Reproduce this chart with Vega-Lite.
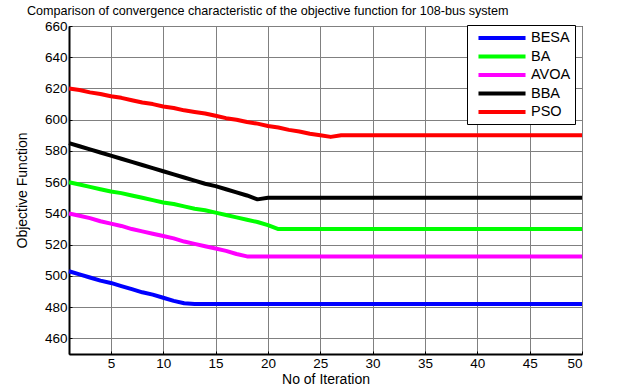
{
  "$schema": "https://vega.github.io/schema/vega-lite/v6.json",
  "width": 513,
  "height": 328,
  "autosize": {"type": "none"},
  "padding": {"left": 69, "top": 26, "right": 48, "bottom": 38},
  "background": "white",
  "title": {
    "text": "Comparison of convergence characteristic of the objective function for 108-bus system",
    "anchor": "start",
    "frame": "group",
    "dx": -42,
    "dy": 18,
    "offset": 9,
    "baseline": "alphabetic",
    "font": "Liberation Sans",
    "fontSize": 12.6,
    "fontWeight": "normal",
    "color": "black"
  },
  "data": {
    "values": [
      {"iter": 1, "algo": "BESA", "f": 503}, {"iter": 2, "algo": "BESA", "f": 501}, {"iter": 3, "algo": "BESA", "f": 499}, {"iter": 4, "algo": "BESA", "f": 497}, {"iter": 5, "algo": "BESA", "f": 495.5},
      {"iter": 6, "algo": "BESA", "f": 493.5}, {"iter": 7, "algo": "BESA", "f": 491.5}, {"iter": 8, "algo": "BESA", "f": 489.5}, {"iter": 9, "algo": "BESA", "f": 488}, {"iter": 10, "algo": "BESA", "f": 486},
      {"iter": 11, "algo": "BESA", "f": 484}, {"iter": 12, "algo": "BESA", "f": 482.5}, {"iter": 13, "algo": "BESA", "f": 482}, {"iter": 14, "algo": "BESA", "f": 482}, {"iter": 15, "algo": "BESA", "f": 482},
      {"iter": 16, "algo": "BESA", "f": 482}, {"iter": 17, "algo": "BESA", "f": 482}, {"iter": 18, "algo": "BESA", "f": 482}, {"iter": 19, "algo": "BESA", "f": 482}, {"iter": 20, "algo": "BESA", "f": 482},
      {"iter": 21, "algo": "BESA", "f": 482}, {"iter": 22, "algo": "BESA", "f": 482}, {"iter": 23, "algo": "BESA", "f": 482}, {"iter": 24, "algo": "BESA", "f": 482}, {"iter": 25, "algo": "BESA", "f": 482},
      {"iter": 26, "algo": "BESA", "f": 482}, {"iter": 27, "algo": "BESA", "f": 482}, {"iter": 28, "algo": "BESA", "f": 482}, {"iter": 29, "algo": "BESA", "f": 482}, {"iter": 30, "algo": "BESA", "f": 482},
      {"iter": 31, "algo": "BESA", "f": 482}, {"iter": 32, "algo": "BESA", "f": 482}, {"iter": 33, "algo": "BESA", "f": 482}, {"iter": 34, "algo": "BESA", "f": 482}, {"iter": 35, "algo": "BESA", "f": 482},
      {"iter": 36, "algo": "BESA", "f": 482}, {"iter": 37, "algo": "BESA", "f": 482}, {"iter": 38, "algo": "BESA", "f": 482}, {"iter": 39, "algo": "BESA", "f": 482}, {"iter": 40, "algo": "BESA", "f": 482},
      {"iter": 41, "algo": "BESA", "f": 482}, {"iter": 42, "algo": "BESA", "f": 482}, {"iter": 43, "algo": "BESA", "f": 482}, {"iter": 44, "algo": "BESA", "f": 482}, {"iter": 45, "algo": "BESA", "f": 482},
      {"iter": 46, "algo": "BESA", "f": 482}, {"iter": 47, "algo": "BESA", "f": 482}, {"iter": 48, "algo": "BESA", "f": 482}, {"iter": 49, "algo": "BESA", "f": 482}, {"iter": 50, "algo": "BESA", "f": 482},

      {"iter": 1, "algo": "BA", "f": 560}, {"iter": 2, "algo": "BA", "f": 558.5}, {"iter": 3, "algo": "BA", "f": 557}, {"iter": 4, "algo": "BA", "f": 555.5}, {"iter": 5, "algo": "BA", "f": 554},
      {"iter": 6, "algo": "BA", "f": 553}, {"iter": 7, "algo": "BA", "f": 551.5}, {"iter": 8, "algo": "BA", "f": 550}, {"iter": 9, "algo": "BA", "f": 548.5}, {"iter": 10, "algo": "BA", "f": 547},
      {"iter": 11, "algo": "BA", "f": 546}, {"iter": 12, "algo": "BA", "f": 544.5}, {"iter": 13, "algo": "BA", "f": 543}, {"iter": 14, "algo": "BA", "f": 542}, {"iter": 15, "algo": "BA", "f": 540.5},
      {"iter": 16, "algo": "BA", "f": 539}, {"iter": 17, "algo": "BA", "f": 537.5}, {"iter": 18, "algo": "BA", "f": 536}, {"iter": 19, "algo": "BA", "f": 534.5}, {"iter": 20, "algo": "BA", "f": 532.5},
      {"iter": 21, "algo": "BA", "f": 530}, {"iter": 22, "algo": "BA", "f": 530}, {"iter": 23, "algo": "BA", "f": 530}, {"iter": 24, "algo": "BA", "f": 530}, {"iter": 25, "algo": "BA", "f": 530},
      {"iter": 26, "algo": "BA", "f": 530}, {"iter": 27, "algo": "BA", "f": 530}, {"iter": 28, "algo": "BA", "f": 530}, {"iter": 29, "algo": "BA", "f": 530}, {"iter": 30, "algo": "BA", "f": 530},
      {"iter": 31, "algo": "BA", "f": 530}, {"iter": 32, "algo": "BA", "f": 530}, {"iter": 33, "algo": "BA", "f": 530}, {"iter": 34, "algo": "BA", "f": 530}, {"iter": 35, "algo": "BA", "f": 530},
      {"iter": 36, "algo": "BA", "f": 530}, {"iter": 37, "algo": "BA", "f": 530}, {"iter": 38, "algo": "BA", "f": 530}, {"iter": 39, "algo": "BA", "f": 530}, {"iter": 40, "algo": "BA", "f": 530},
      {"iter": 41, "algo": "BA", "f": 530}, {"iter": 42, "algo": "BA", "f": 530}, {"iter": 43, "algo": "BA", "f": 530}, {"iter": 44, "algo": "BA", "f": 530}, {"iter": 45, "algo": "BA", "f": 530},
      {"iter": 46, "algo": "BA", "f": 530}, {"iter": 47, "algo": "BA", "f": 530}, {"iter": 48, "algo": "BA", "f": 530}, {"iter": 49, "algo": "BA", "f": 530}, {"iter": 50, "algo": "BA", "f": 530},

      {"iter": 1, "algo": "AVOA", "f": 540}, {"iter": 2, "algo": "AVOA", "f": 538.5}, {"iter": 3, "algo": "AVOA", "f": 537}, {"iter": 4, "algo": "AVOA", "f": 535}, {"iter": 5, "algo": "AVOA", "f": 533.5},
      {"iter": 6, "algo": "AVOA", "f": 532}, {"iter": 7, "algo": "AVOA", "f": 530}, {"iter": 8, "algo": "AVOA", "f": 528.5}, {"iter": 9, "algo": "AVOA", "f": 527}, {"iter": 10, "algo": "AVOA", "f": 525.5},
      {"iter": 11, "algo": "AVOA", "f": 524}, {"iter": 12, "algo": "AVOA", "f": 522}, {"iter": 13, "algo": "AVOA", "f": 520.5}, {"iter": 14, "algo": "AVOA", "f": 519}, {"iter": 15, "algo": "AVOA", "f": 517.5},
      {"iter": 16, "algo": "AVOA", "f": 516}, {"iter": 17, "algo": "AVOA", "f": 514}, {"iter": 18, "algo": "AVOA", "f": 512.5}, {"iter": 19, "algo": "AVOA", "f": 512.5}, {"iter": 20, "algo": "AVOA", "f": 512.5},
      {"iter": 21, "algo": "AVOA", "f": 512.5}, {"iter": 22, "algo": "AVOA", "f": 512.5}, {"iter": 23, "algo": "AVOA", "f": 512.5}, {"iter": 24, "algo": "AVOA", "f": 512.5}, {"iter": 25, "algo": "AVOA", "f": 512.5},
      {"iter": 26, "algo": "AVOA", "f": 512.5}, {"iter": 27, "algo": "AVOA", "f": 512.5}, {"iter": 28, "algo": "AVOA", "f": 512.5}, {"iter": 29, "algo": "AVOA", "f": 512.5}, {"iter": 30, "algo": "AVOA", "f": 512.5},
      {"iter": 31, "algo": "AVOA", "f": 512.5}, {"iter": 32, "algo": "AVOA", "f": 512.5}, {"iter": 33, "algo": "AVOA", "f": 512.5}, {"iter": 34, "algo": "AVOA", "f": 512.5}, {"iter": 35, "algo": "AVOA", "f": 512.5},
      {"iter": 36, "algo": "AVOA", "f": 512.5}, {"iter": 37, "algo": "AVOA", "f": 512.5}, {"iter": 38, "algo": "AVOA", "f": 512.5}, {"iter": 39, "algo": "AVOA", "f": 512.5}, {"iter": 40, "algo": "AVOA", "f": 512.5},
      {"iter": 41, "algo": "AVOA", "f": 512.5}, {"iter": 42, "algo": "AVOA", "f": 512.5}, {"iter": 43, "algo": "AVOA", "f": 512.5}, {"iter": 44, "algo": "AVOA", "f": 512.5}, {"iter": 45, "algo": "AVOA", "f": 512.5},
      {"iter": 46, "algo": "AVOA", "f": 512.5}, {"iter": 47, "algo": "AVOA", "f": 512.5}, {"iter": 48, "algo": "AVOA", "f": 512.5}, {"iter": 49, "algo": "AVOA", "f": 512.5}, {"iter": 50, "algo": "AVOA", "f": 512.5},

      {"iter": 1, "algo": "BBA", "f": 585}, {"iter": 2, "algo": "BBA", "f": 583}, {"iter": 3, "algo": "BBA", "f": 581}, {"iter": 4, "algo": "BBA", "f": 579}, {"iter": 5, "algo": "BBA", "f": 577},
      {"iter": 6, "algo": "BBA", "f": 575}, {"iter": 7, "algo": "BBA", "f": 573}, {"iter": 8, "algo": "BBA", "f": 571}, {"iter": 9, "algo": "BBA", "f": 569}, {"iter": 10, "algo": "BBA", "f": 567},
      {"iter": 11, "algo": "BBA", "f": 565}, {"iter": 12, "algo": "BBA", "f": 563}, {"iter": 13, "algo": "BBA", "f": 561}, {"iter": 14, "algo": "BBA", "f": 559}, {"iter": 15, "algo": "BBA", "f": 557.5},
      {"iter": 16, "algo": "BBA", "f": 555.5}, {"iter": 17, "algo": "BBA", "f": 553.5}, {"iter": 18, "algo": "BBA", "f": 551.5}, {"iter": 19, "algo": "BBA", "f": 549}, {"iter": 20, "algo": "BBA", "f": 550},
      {"iter": 21, "algo": "BBA", "f": 550}, {"iter": 22, "algo": "BBA", "f": 550}, {"iter": 23, "algo": "BBA", "f": 550}, {"iter": 24, "algo": "BBA", "f": 550}, {"iter": 25, "algo": "BBA", "f": 550},
      {"iter": 26, "algo": "BBA", "f": 550}, {"iter": 27, "algo": "BBA", "f": 550}, {"iter": 28, "algo": "BBA", "f": 550}, {"iter": 29, "algo": "BBA", "f": 550}, {"iter": 30, "algo": "BBA", "f": 550},
      {"iter": 31, "algo": "BBA", "f": 550}, {"iter": 32, "algo": "BBA", "f": 550}, {"iter": 33, "algo": "BBA", "f": 550}, {"iter": 34, "algo": "BBA", "f": 550}, {"iter": 35, "algo": "BBA", "f": 550},
      {"iter": 36, "algo": "BBA", "f": 550}, {"iter": 37, "algo": "BBA", "f": 550}, {"iter": 38, "algo": "BBA", "f": 550}, {"iter": 39, "algo": "BBA", "f": 550}, {"iter": 40, "algo": "BBA", "f": 550},
      {"iter": 41, "algo": "BBA", "f": 550}, {"iter": 42, "algo": "BBA", "f": 550}, {"iter": 43, "algo": "BBA", "f": 550}, {"iter": 44, "algo": "BBA", "f": 550}, {"iter": 45, "algo": "BBA", "f": 550},
      {"iter": 46, "algo": "BBA", "f": 550}, {"iter": 47, "algo": "BBA", "f": 550}, {"iter": 48, "algo": "BBA", "f": 550}, {"iter": 49, "algo": "BBA", "f": 550}, {"iter": 50, "algo": "BBA", "f": 550},

      {"iter": 1, "algo": "PSO", "f": 620}, {"iter": 2, "algo": "PSO", "f": 619}, {"iter": 3, "algo": "PSO", "f": 617.5}, {"iter": 4, "algo": "PSO", "f": 616.5}, {"iter": 5, "algo": "PSO", "f": 615},
      {"iter": 6, "algo": "PSO", "f": 614}, {"iter": 7, "algo": "PSO", "f": 612.5}, {"iter": 8, "algo": "PSO", "f": 611}, {"iter": 9, "algo": "PSO", "f": 610}, {"iter": 10, "algo": "PSO", "f": 608.5},
      {"iter": 11, "algo": "PSO", "f": 607.5}, {"iter": 12, "algo": "PSO", "f": 606}, {"iter": 13, "algo": "PSO", "f": 605}, {"iter": 14, "algo": "PSO", "f": 604}, {"iter": 15, "algo": "PSO", "f": 602.5},
      {"iter": 16, "algo": "PSO", "f": 601}, {"iter": 17, "algo": "PSO", "f": 600}, {"iter": 18, "algo": "PSO", "f": 598.5}, {"iter": 19, "algo": "PSO", "f": 597.5}, {"iter": 20, "algo": "PSO", "f": 596},
      {"iter": 21, "algo": "PSO", "f": 595}, {"iter": 22, "algo": "PSO", "f": 593.5}, {"iter": 23, "algo": "PSO", "f": 592.5}, {"iter": 24, "algo": "PSO", "f": 591}, {"iter": 25, "algo": "PSO", "f": 590},
      {"iter": 26, "algo": "PSO", "f": 589}, {"iter": 27, "algo": "PSO", "f": 590}, {"iter": 28, "algo": "PSO", "f": 590}, {"iter": 29, "algo": "PSO", "f": 590}, {"iter": 30, "algo": "PSO", "f": 590},
      {"iter": 31, "algo": "PSO", "f": 590}, {"iter": 32, "algo": "PSO", "f": 590}, {"iter": 33, "algo": "PSO", "f": 590}, {"iter": 34, "algo": "PSO", "f": 590}, {"iter": 35, "algo": "PSO", "f": 590},
      {"iter": 36, "algo": "PSO", "f": 590}, {"iter": 37, "algo": "PSO", "f": 590}, {"iter": 38, "algo": "PSO", "f": 590}, {"iter": 39, "algo": "PSO", "f": 590}, {"iter": 40, "algo": "PSO", "f": 590},
      {"iter": 41, "algo": "PSO", "f": 590}, {"iter": 42, "algo": "PSO", "f": 590}, {"iter": 43, "algo": "PSO", "f": 590}, {"iter": 44, "algo": "PSO", "f": 590}, {"iter": 45, "algo": "PSO", "f": 590},
      {"iter": 46, "algo": "PSO", "f": 590}, {"iter": 47, "algo": "PSO", "f": 590}, {"iter": 48, "algo": "PSO", "f": 590}, {"iter": 49, "algo": "PSO", "f": 590}, {"iter": 50, "algo": "PSO", "f": 590}
    ]
  },
  "mark": {"type": "line", "strokeWidth": 4, "strokeJoin": "round"},
  "encoding": {
    "x": {
      "field": "iter",
      "type": "quantitative",
      "scale": {"domain": [1, 50], "nice": false, "zero": false},
      "axis": {
        "values": [5, 10, 15, 20, 25, 30, 35, 40, 45, 50],
        "title": "No of Iteration",
        "titleX": 256.5,
        "titleY": 29,
        "titleBaseline": "alphabetic",
        "titleAlign": "center",
        "labelPadding": 5
      }
    },
    "y": {
      "field": "f",
      "type": "quantitative",
      "scale": {"domain": [450, 660], "nice": false, "zero": false},
      "axis": {
        "values": [460, 480, 500, 520, 540, 560, 580, 600, 620, 640, 660],
        "title": "Objective Function",
        "titleX": -43,
        "titleY": 164,
        "titleAngle": -90,
        "titleBaseline": "alphabetic",
        "titleAlign": "center",
        "labelPadding": 5
      }
    },
    "color": {
      "field": "algo",
      "type": "nominal",
      "scale": {
        "domain": ["BESA", "BA", "AVOA", "BBA", "PSO"],
        "range": ["#0000FF", "#00FF00", "#FF00FF", "#000000", "#FF0000"]
      },
      "legend": {
        "orient": "none",
        "legendX": 398,
        "legendY": -1,
        "title": null,
        "symbolType": "M-3.36,0H3.36",
        "symbolSize": 196,
        "symbolStrokeWidth": 4,
        "symbolOffset": 22,
        "labelOffset": 20,
        "labelFont": "Liberation Sans",
        "labelFontSize": 14.5,
        "labelColor": "black",
        "strokeColor": "black",
        "fillColor": "white",
        "padding": 4,
        "rowPadding": 1.5,
        "cornerRadius": 0
      }
    }
  },
  "config": {
    "view": {"stroke": "black", "strokeWidth": 1},
    "axis": {
      "labelFont": "Liberation Sans",
      "labelFontSize": 13.5,
      "labelColor": "black",
      "titleFont": "Liberation Sans",
      "titleFontSize": 14,
      "titleFontWeight": "normal",
      "titleColor": "black",
      "gridColor": "#808080",
      "gridWidth": 1,
      "gridOpacity": 1,
      "domainColor": "black",
      "domainWidth": 2,
      "tickColor": "black",
      "tickSize": -3,
      "tickWidth": 1
    }
  }
}
